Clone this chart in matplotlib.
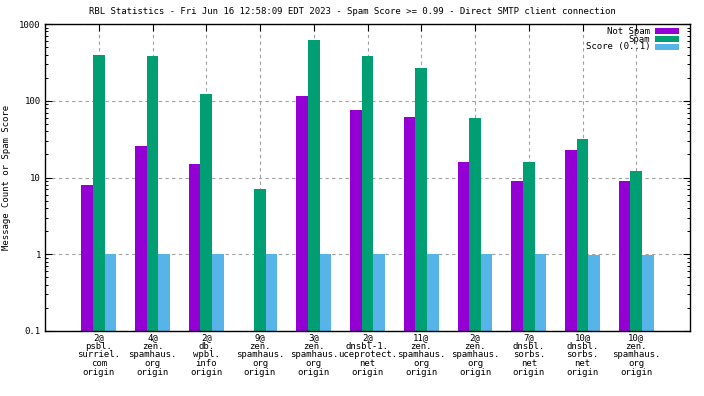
import numpy as np
import matplotlib
matplotlib.use("Agg")
import matplotlib.pyplot as plt
from matplotlib.patches import Rectangle
from matplotlib.ticker import FixedLocator, LogLocator, NullFormatter

categories = [
    "2@\npsbl.\nsurriel.\ncom\norigin",
    "4@\nzen.\nspamhaus.\norg\norigin",
    "2@\ndb.\nwpbl.\ninfo\norigin",
    "9@\nzen.\nspamhaus.\norg\norigin",
    "3@\nzen.\nspamhaus.\norg\norigin",
    "2@\ndnsbl-1.\nuceprotect.\nnet\norigin",
    "11@\nzen.\nspamhaus.\norg\norigin",
    "2@\nzen.\nspamhaus.\norg\norigin",
    "7@\ndnsbl.\nsorbs.\nnet\norigin",
    "10@\ndnsbl.\nsorbs.\nnet\norigin",
    "10@\nzen.\nspamhaus.\norg\norigin",
]
not_spam = [8, 26, 15, 0, 117, 75, 62, 16, 9, 23, 9]
spam = [390, 378, 121, 7, 610, 378, 264, 59, 16, 32, 12]
score = [1.0, 1.0, 1.0, 1.0, 1.0, 1.0, 1.0, 1.0, 1.0, 0.97, 0.97]
series_names = ["Not Spam", "Spam", "Score (0..1)"]
colors = ["#9400D3", "#009E73", "#56B4E9"]
y_ticks = [0.1, 1, 10, 100, 1000]
y_tick_labels = ["0.1", "1", "10", "100", "1000"]
title = "RBL Statistics - Fri Jun 16 12:58:09 EDT 2023 - Spam Score >= 0.99 - Direct SMTP client connection"

plt.rcParams['font.family'] = ['DejaVu Sans Mono']
FS = 6.5
W, H = 704, 396

fig = plt.figure(figsize=(7.04, 3.96), dpi=100)
ax = fig.add_axes([45/W, (H-331)/H, 645/W, 307/H])

x = np.arange(len(categories))
w = 0.215
for off, vals, c, name in zip([-1, 0, 1], [not_spam, spam, score], colors, series_names):
    v = np.array(vals, dtype=float)
    v[v <= 0] = np.nan
    ax.bar(x + off * w, v, width=w, color=c, label=name, bottom=0.0, linewidth=0)

ax.set_yscale('log')
ax.set_ylim(0.1, 1000)
ax.set_xlim(-1, len(categories))
ax.yaxis.set_major_locator(FixedLocator(y_ticks))
ax.set_yticklabels(y_tick_labels, fontsize=FS)
ax.yaxis.set_minor_locator(LogLocator(base=10, subs=np.arange(2, 10)))
ax.yaxis.set_minor_formatter(NullFormatter())
ax.set_xticks(x)
ax.set_xticklabels(categories, fontsize=FS, linespacing=0.95)

ax.tick_params(axis='both', which='major', direction='in', length=5, width=0.8,
               top=True, right=True, pad=3)
ax.tick_params(axis='x', which='major', pad=1.5)
ax.tick_params(axis='y', which='minor', direction='in', length=2.5, width=0.7, right=True)
ax.tick_params(axis='x', which='minor', bottom=False, top=False)

ax.grid(True, which='major', axis='both', color='#a0a0a0', linestyle=(0, (3, 3)), linewidth=0.8)
ax.set_axisbelow(True)
for s in ax.spines.values():
    s.set_linewidth(1.0)

ax.set_ylabel("Message Count or Spam Score", fontsize=FS)
ax.yaxis.set_label_coords((11 - 45) / 645, 0.5)
fig.text(352/W, 1 - 12/H, title, ha='center', va='center', fontsize=FS)

# legend (gnuplot style: label right-aligned, colour box to the right)
row_y = [31, 39, 47]
for name, c, yy in zip(series_names, colors, row_y):
    fig.text(650/W, 1 - yy/H, name, ha='right', va='center', fontsize=FS)
    fig.patches.append(Rectangle((655/W, 1 - (yy + 2.5)/H), 24/W, 5.5/H,
                                 transform=fig.transFigure, facecolor=c,
                                 edgecolor='none', figure=fig))

fig.savefig("out.png", dpi=100)
